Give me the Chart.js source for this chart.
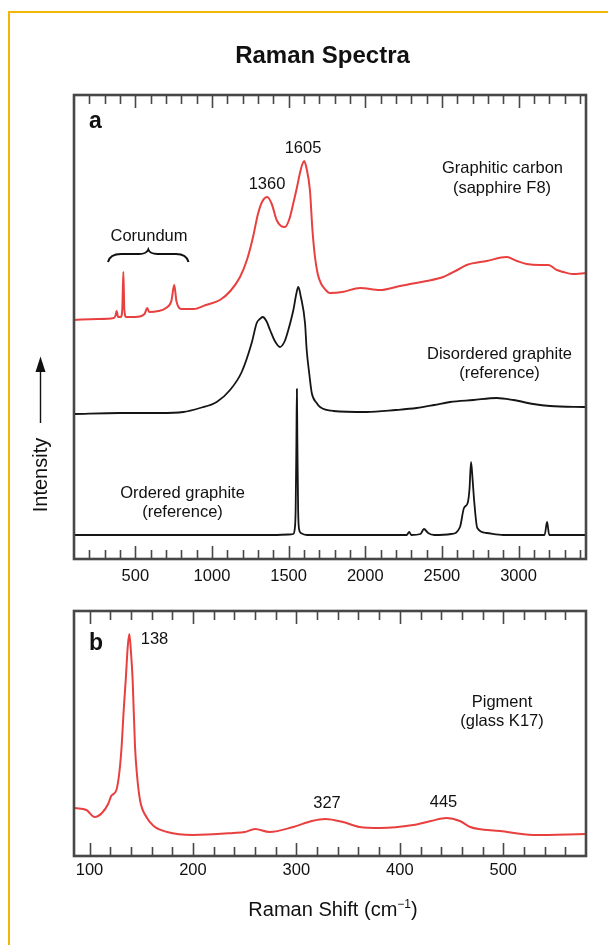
<!DOCTYPE html>
<html>
<head>
<meta charset="utf-8">
<title>Raman Spectra</title>
<script src="https://cdn.jsdelivr.net/npm/chart.js@4.4.1/dist/chart.umd.min.js"></script>
<style>
  html, body { margin: 0; padding: 0; background: #fff; }
  #page { position: relative; width: 608px; height: 945px; overflow: hidden; }
  #frame { position: absolute; left: 8px; top: 11px; width: 620px; height: 960px;
           border-top: 2px solid #f2b705; border-left: 2px solid #f2b705; }
  #canvasA { position: absolute; left: 0; top: 0; }
  #canvasB { position: absolute; left: 0; top: 598px; }
</style>
</head>
<body>
<div id="page">
  <div id="frame"></div>
  <canvas id="canvasA" width="608" height="598"></canvas>
  <canvas id="canvasB" width="608" height="347"></canvas>
</div>
<script>
// Panel a: Raman shift (cm-1) and offset intensity (arbitrary units)
const graphiticShift = [100, 250, 360, 370, 378, 388, 405, 415, 422, 428, 440, 500, 560, 578, 590, 650, 700, 735, 754, 768,
  800, 880, 960, 1052, 1120, 1183, 1230, 1268, 1300, 1330, 1361, 1390, 1422, 1450, 1476, 1505, 1531, 1555, 1574, 1590,
  1602, 1615, 1639, 1655, 1672, 1690, 1710, 1726, 1770, 1850, 1966, 2096, 2200, 2292, 2400, 2509, 2600, 2662, 2792, 2922,
  2990, 3053, 3140, 3194, 3250, 3292, 3350, 3440];
const graphiticIntensity = [239, 240, 241, 243, 248, 242, 242, 250, 287, 250, 242, 242, 245, 251, 247, 248, 251, 258, 274, 258,
  250, 250, 254, 259, 268, 282, 300, 322, 345, 358, 362, 355, 339, 333, 332, 340, 356, 372, 386, 395,
  398, 392, 369, 330, 302, 285, 276, 272, 266, 267, 271, 269, 272, 275, 278, 282, 289, 294, 298, 302,
  298, 295, 294, 294, 289, 287, 285, 286];

const disorderedShift = [100, 400, 661, 813, 922, 1031, 1118, 1194, 1259, 1292, 1312, 1331, 1355, 1379, 1410, 1444, 1475, 1498,
  1531, 1550, 1563, 1580, 1607, 1618, 1635, 1651, 1683, 1705, 1791, 2009, 2200, 2335, 2450, 2553, 2705, 2857, 2966, 3096,
  3205, 3440];
const disorderedIntensity = [145, 146, 146, 147, 151, 157, 169, 187, 216, 236, 240, 242, 238, 229, 218, 212, 218, 229,
  249, 265, 272, 262, 236, 209, 185, 166, 156, 152, 148, 147, 149, 151, 154, 157, 159, 161, 159, 155,
  153, 152];

const orderedShift = [100, 1400, 1500, 1530, 1540, 1546, 1551, 1554, 1557, 1562, 1568, 1580, 1620, 2270, 2287, 2300, 2360,
  2383, 2410, 2450, 2560, 2618, 2644, 2668, 2680, 2690, 2700, 2710, 2731, 2792, 2900, 3170, 3186, 3200, 3440];
const orderedIntensity = [24, 24, 24.5, 25, 30, 50, 120, 170, 120, 50, 30, 26, 24, 24, 27, 24, 25,
  30, 26, 24, 25, 32, 51, 56, 70, 97, 80, 59, 31, 26, 24, 24, 37, 24, 24];

// Panel b: pigment in glass K17
const pigmentShift = [86, 97, 105, 112, 118, 121, 126, 129, 131, 133, 135, 137, 138.5, 140, 141.7, 144, 146, 149, 155, 162,
  175, 200, 239, 250, 260, 274, 297, 315, 328, 345, 361, 381, 413, 430, 445, 458, 468, 497, 529, 579];
const pigmentIntensity = [48, 46, 39, 43, 52, 60, 66, 85, 109, 145, 176, 210, 222, 205, 176, 109, 80, 55, 39, 30,
  24, 21, 23, 24, 27, 24, 29, 35, 37, 34, 29, 28, 31, 35, 38, 35, 29, 25, 21, 22];

// Axis ticks
const tickLabelsA = [500, 1000, 1500, 2000, 2500, 3000];
const tickLabelsB = [100, 200, 300, 400, 500];

const RED = '#e8403f';
const BLACK = '#151515';
const FRAME = '#474747';
const FONT = '"Liberation Sans", Arial, Helvetica, sans-serif';

function spectrum(xs, ys, color, width) {
    return {
        data: xs.map((x, i) => ({ x: x, y: ys[i] })),
        borderColor: color,
        borderWidth: width,
        pointRadius: 0,
        cubicInterpolationMode: 'monotone',
        borderJoinStyle: 'round',
        fill: false
    };
}

// frame + inward ticks on top and bottom, labels under the bottom axis
function drawFrame(chart, majors, minorFrom, minorTo, minorStep, labelY) {
    const ctx = chart.ctx;
    const area = chart.chartArea;
    const xs = chart.scales.x;
    ctx.save();
    ctx.strokeStyle = FRAME;
    ctx.lineWidth = 1.6;
    for (let v = minorFrom; v <= minorTo + 1e-6; v += minorStep) {
        const isMajor = majors.some(m => Math.abs(m - v) < 1e-6);
        const len = isMajor ? 13 : 9;
        const px = Math.round(xs.getPixelForValue(v)) + 0.5;
        ctx.beginPath();
        ctx.moveTo(px, area.bottom);
        ctx.lineTo(px, area.bottom - len);
        ctx.moveTo(px, area.top);
        ctx.lineTo(px, area.top + len);
        ctx.stroke();
    }
    ctx.lineWidth = 2.6;
    ctx.strokeRect(area.left, area.top, area.right - area.left, area.bottom - area.top);

    ctx.fillStyle = '#111';
    ctx.font = '16.5px ' + FONT;
    ctx.textAlign = 'center';
    ctx.textBaseline = 'alphabetic';
    majors.forEach(m => ctx.fillText(String(m), xs.getPixelForValue(m), labelY));
    ctx.restore();
}

function text(ctx, str, x, y, font, align) {
    ctx.font = font;
    ctx.textAlign = align || 'center';
    ctx.textBaseline = 'alphabetic';
    ctx.fillText(str, x, y);
}

const decorA = {
    id: 'decorA',
    afterDraw(chart) {
        drawFrame(chart, tickLabelsA, 200, 3400, 100, 581);
        const ctx = chart.ctx;
        ctx.save();
        ctx.fillStyle = '#111';
        text(ctx, 'Raman Spectra', 322.5, 63, 'bold 24px ' + FONT);
        text(ctx, 'a', 89, 128, 'bold 23px ' + FONT, 'left');
        const f = '16.5px ' + FONT;
        text(ctx, '1605', 303, 153, f);
        text(ctx, '1360', 267, 189, f);
        text(ctx, 'Corundum', 149, 240.5, f);
        text(ctx, 'Graphitic carbon', 502.5, 173, f);
        text(ctx, '(sapphire F8)', 502, 192.5, f);
        text(ctx, 'Disordered graphite', 499.5, 359, f);
        text(ctx, '(reference)', 499.5, 377.5, f);
        text(ctx, 'Ordered graphite', 182.5, 498, f);
        text(ctx, '(reference)', 182.5, 516.5, f);

        // brace over the corundum lines
        ctx.strokeStyle = '#111';
        ctx.lineWidth = 2;
        ctx.beginPath();
        ctx.moveTo(108, 262);
        ctx.quadraticCurveTo(110, 254, 121, 254);
        ctx.lineTo(139, 254);
        ctx.quadraticCurveTo(146.5, 254, 148.3, 249.5);
        ctx.quadraticCurveTo(150, 254, 157.5, 254);
        ctx.lineTo(176, 254);
        ctx.quadraticCurveTo(186.5, 254, 188.5, 262);
        ctx.stroke();

        // Intensity axis label with arrow
        ctx.save();
        ctx.translate(46.5, 475);
        ctx.rotate(-Math.PI / 2);
        text(ctx, 'Intensity', 0, 0, '20px ' + FONT);
        ctx.restore();
        ctx.lineWidth = 1.4;
        ctx.beginPath();
        ctx.moveTo(40.5, 423);
        ctx.lineTo(40.5, 368);
        ctx.stroke();
        ctx.beginPath();
        ctx.moveTo(40.5, 356.5);
        ctx.lineTo(35.5, 372);
        ctx.lineTo(45.5, 372);
        ctx.closePath();
        ctx.fill();
        ctx.restore();
    }
};

const decorB = {
    id: 'decorB',
    afterDraw(chart) {
        drawFrame(chart, tickLabelsB, 100, 560, 20, 875 - 598);
        const ctx = chart.ctx;
        ctx.save();
        ctx.fillStyle = '#111';
        text(ctx, 'b', 89, 649.5 - 598, 'bold 23px ' + FONT, 'left');
        const f = '16.5px ' + FONT;
        text(ctx, '138', 154.5, 644 - 598, f);
        text(ctx, '327', 327, 808 - 598, f);
        text(ctx, '445', 443.5, 807 - 598, f);
        text(ctx, 'Pigment', 502, 707 - 598, f);
        text(ctx, '(glass K17)', 502, 725.5 - 598, f);
        // x axis title with superscript
        ctx.font = '20px ' + FONT;
        const main = 'Raman Shift (cm';
        const sup = '\u22121';
        const wMain = ctx.measureText(main).width;
        ctx.font = '12px ' + FONT;
        const wSup = ctx.measureText(sup).width;
        ctx.font = '20px ' + FONT;
        const wEnd = ctx.measureText(')').width;
        let x0 = 333 - (wMain + wSup + wEnd) / 2;
        const base = 916 - 598;
        text(ctx, main, x0, base, '20px ' + FONT, 'left');
        text(ctx, sup, x0 + wMain, base - 8, '12px ' + FONT, 'left');
        text(ctx, ')', x0 + wMain + wSup, base, '20px ' + FONT, 'left');
        ctx.restore();
    }
};

const commonOptions = (xmin, xmax, ymax, pad) => ({
    responsive: false,
    animation: false,
    devicePixelRatio: 1,
    layout: { padding: pad },
    plugins: { legend: { display: false }, tooltip: { enabled: false } },
    scales: {
        x: { type: 'linear', min: xmin, max: xmax, display: false },
        y: { type: 'linear', min: 0, max: ymax, display: false }
    }
});

new Chart(document.getElementById('canvasA'), {
    type: 'line',
    data: {
        datasets: [
            spectrum(graphiticShift, graphiticIntensity, RED, 2),
            spectrum(disorderedShift, disorderedIntensity, BLACK, 1.8),
            spectrum(orderedShift, orderedIntensity, BLACK, 1.8)
        ]
    },
    options: commonOptions(100, 3440, 464, { left: 74, top: 95, right: 22, bottom: 39 }),
    plugins: [decorA]
});

new Chart(document.getElementById('canvasB'), {
    type: 'line',
    data: {
        datasets: [spectrum(pigmentShift, pigmentIntensity, RED, 2)]
    },
    options: commonOptions(85, 580, 245, { left: 74, top: 13, right: 22, bottom: 89 }),
    plugins: [decorB]
});
</script>
</body>
</html>
